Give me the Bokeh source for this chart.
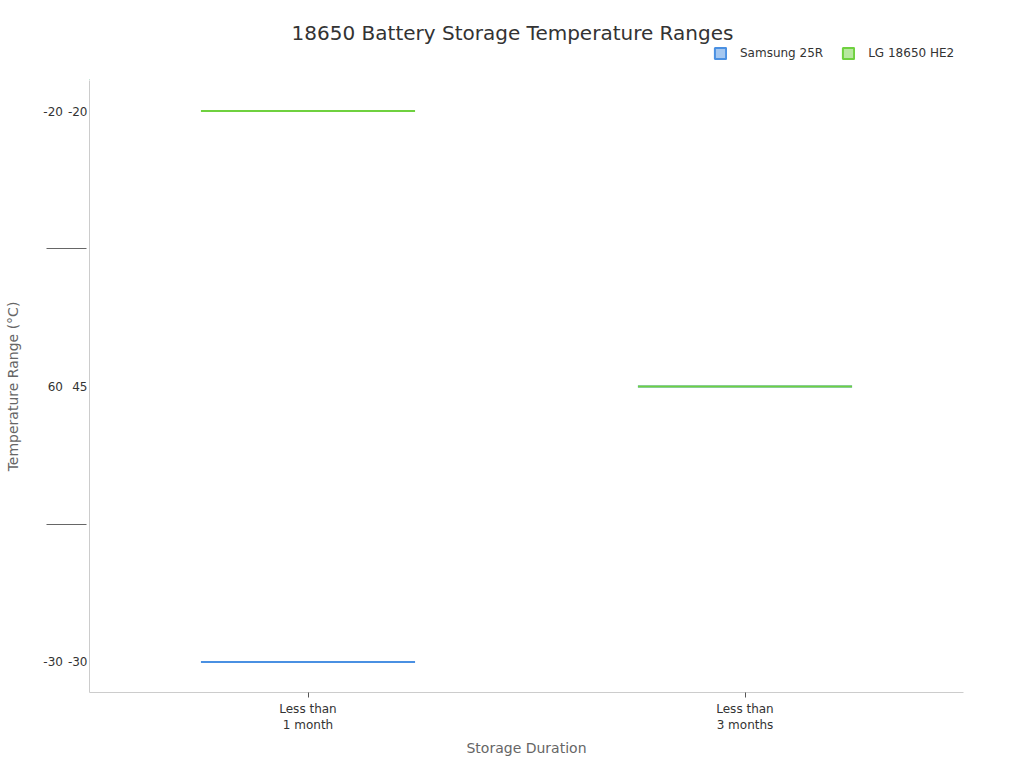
from bokeh.plotting import figure
from bokeh.models import ColumnDataSource, FactorRange, Legend, LegendItem, Label, Range1d
from bokeh.layouts import column
from bokeh.embed import file_html
from bokeh.resources import INLINE

durations = ["Less than\n1 month", "Less than\n3 months"]
temp_factors = [("-30", "-30"), ("60", "45"), ("-20", "-20")]

samsung_x = ["Less than\n1 month", "Less than\n3 months"]
samsung_y = [("-30", "-30"), ("60", "45")]
lg_x = ["Less than\n1 month", "Less than\n3 months"]
lg_y = [("-20", "-20"), ("60", "45")]

FONT = "DejaVu Sans"
BLUE = "#4a90e2"
GREEN = "#6fd13f"

FRAME_LEFT = 89

# ---- header: title + legend (frame aligned with the main chart's frame) ----
h = figure(width=1024, height=80, output_backend="svg", toolbar_location=None,
           x_range=Range1d(0, 1), y_range=Range1d(0, 1),
           min_border_left=FRAME_LEFT, min_border_right=61, min_border_top=0, min_border_bottom=0)
h.axis.visible = False
h.grid.grid_line_color = None
h.outline_line_color = None

h.add_layout(Label(x=512 - FRAME_LEFT, y=48, x_units="screen", y_units="screen",
                   text="18650 Battery Storage Temperature Ranges",
                   text_font=FONT, text_font_size="20px", text_color="#333333",
                   text_align="center", text_baseline="middle"))

# legend-only renderers (their data lies far outside the header's view)
hs = ColumnDataSource(dict(x=[-100], top=[-100], bottom=[-101]))
d1 = h.vbar(x="x", top="top", bottom="bottom", width=0.1, source=hs,
            fill_color=BLUE, fill_alpha=0.5, line_color=BLUE, line_width=2)
d2 = h.vbar(x="x", top="top", bottom="bottom", width=0.1, source=hs,
            fill_color=GREEN, fill_alpha=0.5, line_color=GREEN, line_width=2)

legend = Legend(items=[LegendItem(label="Samsung 25R", renderers=[d1]),
                       LegendItem(label="LG 18650 HE2", renderers=[d2])],
                orientation="horizontal", location=(713 - FRAME_LEFT, 20),
                border_line_color=None, background_fill_alpha=0,
                label_text_font=FONT, label_text_font_size="12px", label_text_color="#333333",
                glyph_width=14, glyph_height=14, spacing=18, padding=2, margin=0,
                label_standoff=13, label_height=12)
h.add_layout(legend, "center")

# ---- main chart ----
p = figure(width=1024, height=688, output_backend="svg", toolbar_location=None,
           x_range=FactorRange(*durations),
           y_range=FactorRange(*temp_factors, group_padding=3.5),
           min_border_left=FRAME_LEFT, min_border_right=61, min_border_top=0, min_border_bottom=76)

s_src = ColumnDataSource(dict(x=samsung_x, y=samsung_y))
l_src = ColumnDataSource(dict(x=lg_x, y=lg_y))

p.vbar(x="x", top="y", bottom="y", width=0.49, source=s_src,
       fill_color=BLUE, fill_alpha=0.5, line_color=BLUE, line_width=2)
p.vbar(x="x", top="y", bottom="y", width=0.49, source=l_src,
       fill_color=GREEN, fill_alpha=0.5, line_color=GREEN, line_width=2)

p.xgrid.grid_line_color = None
p.ygrid.grid_line_color = None
p.outline_line_color = None

p.xaxis.axis_label = "Storage Duration"
p.yaxis.axis_label = "Temperature Range (°C)"
for ax in (p.xaxis[0], p.yaxis[0]):
    ax.axis_label_text_font = FONT
    ax.axis_label_text_font_size = "14px"
    ax.axis_label_text_font_style = "normal"
    ax.axis_label_text_color = "#666666"
    ax.major_label_text_font = FONT
    ax.major_label_text_font_size = "12px"
    ax.major_label_text_color = "#333333"
    ax.axis_line_color = "#cccccc"
    ax.minor_tick_line_color = None

p.xaxis.major_tick_line_color = "#555555"
p.xaxis.major_tick_in = 0
p.xaxis.major_tick_out = 5
p.xaxis.major_label_standoff = 4

p.yaxis.major_tick_line_color = None
p.yaxis.major_tick_in = 0
p.yaxis.major_tick_out = 0
p.yaxis.major_label_standoff = 2
p.yaxis.axis_label_standoff = 19
p.yaxis.group_label_orientation = "horizontal"
p.yaxis.subgroup_label_orientation = "horizontal"
p.yaxis.group_text_font = FONT
p.yaxis.group_text_font_size = "12px"
p.yaxis.group_text_font_style = "normal"
p.yaxis.group_text_color = "#333333"
p.yaxis.separator_line_color = "#666666"
p.yaxis.separator_line_width = 1

layout = column(h, p, spacing=0)
open("out.html", "w").write(file_html(layout, INLINE))
